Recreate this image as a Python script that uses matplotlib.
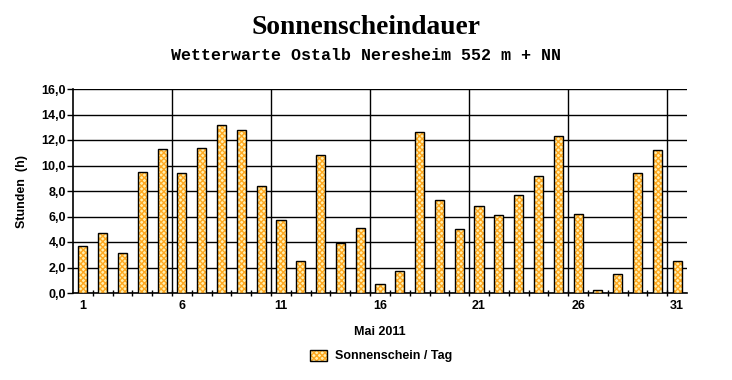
import numpy as np
import matplotlib.pyplot as plt
from matplotlib.ticker import FuncFormatter
from matplotlib.patches import Patch

# ---------------- DATA ----------------

days = list(range(1, 32))
sunshine = [3.7, 4.7, 3.1, 9.5, 11.3, 9.4, 11.4, 13.2, 12.8, 8.4,
            5.7, 2.5, 10.8, 3.9, 5.1, 0.7, 1.7, 12.6, 7.3, 5.0,
            6.8, 6.1, 7.7, 9.2, 12.3, 6.2, 0.2, 1.5, 9.4, 11.2, 2.5]
day_labels = [1, 6, 11, 16, 21, 26, 31]

title = "Sonnenscheindauer"
subtitle = "Wetterwarte Ostalb Neresheim 552 m + NN"
series_name = "Sonnenschein / Tag"

# ---------------- FIGURE ----------------

plt.rcParams["font.family"] = ["Liberation Sans", "DejaVu Sans"]
plt.rcParams["hatch.linewidth"] = 1.0

fig = plt.figure(figsize=(7.32, 3.80), dpi=100)
ax = fig.add_axes([73 / 732, 1 - 293 / 380, 614 / 732, 204 / 380])

x = np.array(days)
width = 0.46

# textured fill, then black outline on top
ax.bar(x, sunshine, width, facecolor="#FFF0B0", edgecolor="#FFA820",
       hatch="xxxxxx", linewidth=0, zorder=3)
ax.bar(x, sunshine, width, fill=False, edgecolor="black",
       linewidth=1, zorder=4)

ax.set_xlim(0.5, 31.5)
ax.set_ylim(0, 16)

# grid
ax.set_yticks(np.arange(0, 17, 2))
ax.yaxis.set_major_formatter(FuncFormatter(lambda v, p: f"{v:.1f}".replace(".", ",")))
ax.grid(axis="y", color="black", linewidth=1, zorder=1)
for xv in [5.5, 10.5, 15.5, 20.5, 25.5, 30.5]:
    ax.axvline(xv, color="black", linewidth=1, zorder=1)

ax.set_xticks(day_labels)
ax.set_xticks(np.arange(1.5, 31.5, 1), minor=True)
ax.tick_params(axis="x", which="major", length=0, pad=5)
ax.tick_params(axis="x", which="minor", length=4, direction="inout", width=1)
ax.tick_params(axis="y", length=4, width=1, pad=1)

for lab in ax.get_xticklabels() + ax.get_yticklabels():
    lab.set_fontsize(9)
    lab.set_fontweight("bold")

for side in ["top", "right"]:
    ax.spines[side].set_visible(False)
for side in ["left", "bottom"]:
    ax.spines[side].set_linewidth(1.2)

ax.set_ylabel("Stunden  (h)", fontsize=9, fontweight="bold", labelpad=10)
ax.set_xlabel("Mai 2011", fontsize=9, fontweight="bold", labelpad=10)

# titles
fig.text(0.5, 1 - 28 / 380, title, ha="center", va="center",
         fontsize=19.8, fontweight="bold", family=["Liberation Serif"])
fig.text(0.5, 1 - 55 / 380, subtitle, ha="center", va="center",
         fontsize=12, fontweight="bold", family=["Liberation Mono"])

# legend
handle = Patch(facecolor="#FFF0B0", edgecolor="#FFA820", hatch="xxxxxx", linewidth=0)
outline = Patch(fill=False, edgecolor="black", linewidth=1)
fig.legend([(handle, outline)], [series_name], loc="center",
           bbox_to_anchor=(0.52, 1 - 356 / 380),
           frameon=False, prop={"size": 9, "weight": "bold"},
           handlelength=1.4, handleheight=1.0, handletextpad=0.6)

fig.savefig("out.png", dpi=100)
